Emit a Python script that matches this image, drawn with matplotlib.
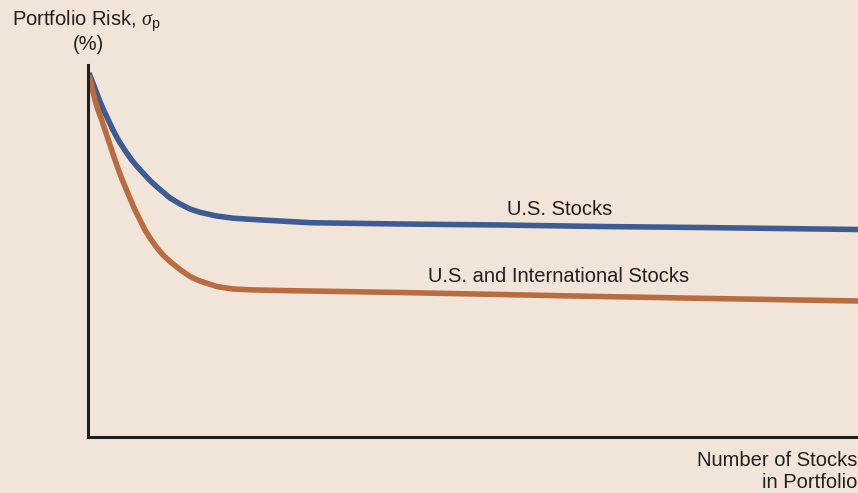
import matplotlib
matplotlib.use("Agg")
import matplotlib.pyplot as plt

# Data (relative units: x = number of stocks, y = portfolio risk)
us_x = [1, 6, 11.3, 16, 20.3, 25, 30.3, 37, 43.7, 49.5, 55.3, 62, 68.7, 75, 82, 92, 102, 112,
        128.7, 145, 162, 192, 222, 312, 412, 512, 612, 770]
us_y = [364, 351, 337, 326, 317, 307, 297, 286.5, 277, 270, 263.7, 256.5, 250.3, 245, 239, 233,
        228, 224.7, 221, 218.8, 217.7, 216, 214.3, 213, 212, 210.5, 209.5, 207.5]

intl_x = [1, 4, 7, 10, 13.7, 17, 20.3, 23.7, 27, 30.5, 34.3, 38.5, 42.7, 47, 52, 57, 62, 68.7,
          75, 82, 92, 102, 112, 128.7, 145, 162, 192, 222, 312, 412, 512, 612, 770]
intl_y = [362, 349, 337, 327, 317, 307, 297, 287, 277, 267, 257, 247, 237, 227, 217, 207, 199,
          189.5, 182, 175.5, 167.5, 160.5, 156, 150.5, 148, 147.2, 146.5, 146, 144.5, 142.5, 140.5,
          138.7, 136]

labels = ["U.S. Stocks", "U.S. and International Stocks"]
ylabel = ["Portfolio Risk, $\\sigma_\\mathregular{p}$", "(%)"]
xlabel = ["Number of Stocks", "in Portfolio"]

plt.rcParams['font.family'] = ['Liberation Sans', 'DejaVu Sans']
plt.rcParams['mathtext.fontset'] = 'custom'
plt.rcParams['mathtext.rm'] = 'Liberation Sans'
plt.rcParams['mathtext.it'] = 'Liberation Serif:italic'

bg = '#F1E4D8'
W, H = 858, 493
fig = plt.figure(figsize=(W / 100, H / 100), dpi=100, facecolor=bg)
ax = fig.add_axes([88 / W, (H - 437) / H, (858 - 88) / W, (437 - 65) / H])
ax.set_facecolor(bg)
ax.set_xlim(0, 770)
ax.set_ylim(0, 372)

blue = '#3D5C94'
orange = '#B96C40'
ax.plot(us_x, us_y, color=blue, lw=4.0, solid_capstyle='butt', solid_joinstyle='round')
ax.plot(intl_x, intl_y, color=orange, lw=4.0, solid_capstyle='butt', solid_joinstyle='round')

for s in ['top', 'right']:
    ax.spines[s].set_visible(False)
for s in ['left', 'bottom']:
    ax.spines[s].set_color('#231F20')
    ax.spines[s].set_linewidth(2.2)
ax.set_xticks([])
ax.set_yticks([])

tc = '#231F20'
fs = 14.5
fig.text(560 / W, 1 - 209 / H, labels[0], ha='center', va='center', fontsize=fs, color=tc)
fig.text(559 / W, 1 - 276 / H, labels[1], ha='center', va='center', fontsize=fs, color=tc)
fig.text(12 / W, 1 - 21 / H, ylabel[0], ha='left', va='center', fontsize=fs, color=tc)
fig.text(88 / W, 1 - 45 / H, ylabel[1], ha='center', va='center', fontsize=fs, color=tc)
fig.text(857 / W, 1 - 461 / H, xlabel[0], ha='right', va='center', fontsize=fs, color=tc)
fig.text(857 / W, 1 - 483 / H, xlabel[1], ha='right', va='center', fontsize=fs, color=tc)

fig.savefig('out.png', dpi=100, facecolor=bg)
